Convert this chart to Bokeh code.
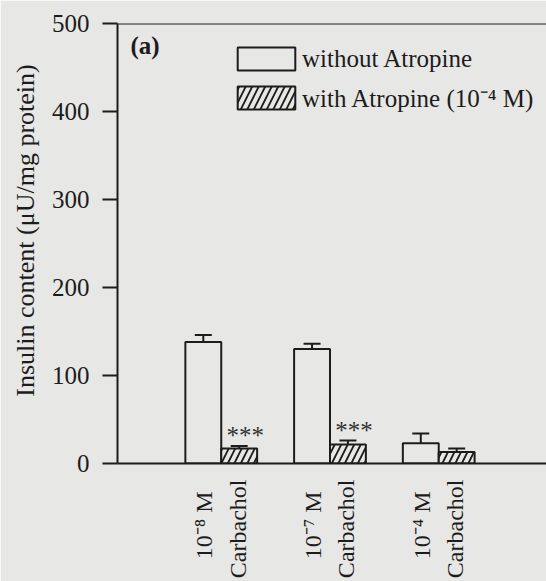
import numpy as np
from math import pi
from bokeh.plotting import figure
from bokeh.models import (ColumnDataSource, Whisker, TeeHead, Label, Legend,
                          LegendItem, Span, FixedTicker, Range1d)
from bokeh.core.properties import value
from bokeh.embed import file_html
from bokeh.resources import INLINE

# ---- data ----
groups = ["10\u207b\u2078 M", "10\u207b\u2077 M", "10\u207b\u2074 M"]
group_line2 = ["Carbachol", "Carbachol", "Carbachol"]
without_vals = [138, 130, 23]
without_err = [8, 6, 11]
with_vals = [17, 21.5, 13]
with_err = [3, 4.5, 4]
with_sig = ["***", "***", ""]
y_ticks = [0, 100, 200, 300, 400, 500]
legend_labels = ["without Atropine", "with Atropine (10\u207b\u2074 M)"]
panel_tag = "(a)"
y_label = "Insulin content (\u03bcU/mg protein)"

BG = "#e7e7e5"
INK = "#1c1c1c"
FONT = "Liberation Serif"
NB = "\u00a0"

pos = np.arange(1, len(groups) + 1)
bw = 0.33

p = figure(width=546, height=581, output_backend="svg", toolbar_location=None,
           x_range=Range1d(0.046, 3.991), y_range=Range1d(0, 500),
           min_border_left=117, min_border_right=0, min_border_top=23,
           min_border_bottom=118)
p.background_fill_color = BG
p.border_fill_color = BG
p.outline_line_color = None
p.xgrid.visible = False
p.ygrid.visible = False

# x axis: line plus two-line vertical category labels
line1_ticks = [round(float(v) - 0.155, 3) for v in pos]
line2_ticks = [round(float(v) + 0.15, 3) for v in pos]
overrides = {}
for i in range(len(groups)):
    overrides[line1_ticks[i]] = groups[i] + NB + NB
    overrides[line2_ticks[i]] = group_line2[i]
p.xaxis.ticker = FixedTicker(ticks=sorted(line1_ticks + line2_ticks))
p.xaxis.major_label_overrides = overrides
p.xaxis.major_label_orientation = pi / 2
p.xaxis.major_label_text_font = FONT
p.xaxis.major_label_text_font_size = "24px"
p.xaxis.major_label_text_color = INK
p.xaxis.major_label_standoff = 16
p.xaxis.major_tick_out = 0
p.xaxis.major_tick_in = 0
p.xaxis.axis_line_width = 2
p.xaxis.axis_line_color = INK
p.xaxis.major_tick_line_color = None
p.xaxis.minor_tick_line_color = None

# y axis
p.yaxis.ticker = FixedTicker(ticks=y_ticks)
p.yaxis.minor_tick_line_color = None
p.yaxis.major_tick_out = 15
p.yaxis.major_tick_in = 0
p.yaxis.major_tick_line_width = 2
p.yaxis.major_tick_line_color = INK
p.yaxis.axis_line_width = 2
p.yaxis.axis_line_color = INK
p.yaxis.major_label_text_font = FONT
p.yaxis.major_label_text_font_size = "25px"
p.yaxis.major_label_text_color = INK
p.yaxis.major_label_standoff = 13
p.yaxis.axis_label = NB * 4 + y_label
p.yaxis.axis_label_text_font = FONT
p.yaxis.axis_label_text_font_size = "26px"
p.yaxis.axis_label_text_font_style = "normal"
p.yaxis.axis_label_text_color = INK
p.yaxis.axis_label_standoff = 9

p.add_layout(Span(location=y_ticks[-1], dimension="width", line_color=INK, line_width=2))

src_wo = ColumnDataSource(dict(
    x=pos - bw / 2, top=without_vals,
    upper=np.array(without_vals) + np.array(without_err)))
src_w = ColumnDataSource(dict(
    x=pos + bw / 2, top=with_vals,
    upper=np.array(with_vals) + np.array(with_err), sig=with_sig))

r1 = p.vbar(x="x", top="top", width=bw, bottom=0, source=src_wo,
            fill_color=BG, line_color=INK, line_width=2)
r2 = p.vbar(x="x", top="top", width=bw, bottom=0, source=src_w,
            fill_color=BG, line_color=INK, line_width=2,
            hatch_pattern="/", hatch_color=INK, hatch_scale=13, hatch_weight=1.8)

for src in (src_wo, src_w):
    p.add_layout(Whisker(source=src, base="x", lower="top", upper="upper",
                         line_color=INK, line_width=2,
                         upper_head=TeeHead(size=17, line_color=INK, line_width=2),
                         lower_head=None))

p.text(x="x", y="upper", text="sig", source=src_w, text_font=value(FONT),
       text_font_size="25px", text_align="center", text_baseline="alphabetic",
       x_offset=6, y_offset=-10, text_color="#333333")

legend = Legend(items=[LegendItem(label=legend_labels[0], renderers=[r1]),
                       LegendItem(label=legend_labels[1], renderers=[r2])],
                location=(113, 349), glyph_width=72, glyph_height=29,
                label_height=29, spacing=7, padding=0, margin=0,
                border_line_color=None, background_fill_alpha=0,
                label_text_font=FONT, label_text_font_size="25px",
                label_standoff=0, label_text_color=INK)
p.add_layout(legend)

p.add_layout(Label(x=13, y=418, x_units="screen", y_units="screen", text=panel_tag,
                   text_font=FONT, text_font_style="bold", text_font_size="25px",
                   text_baseline="middle", text_color=INK))

html = file_html(p, INLINE)
html = html.replace("<body>", '<body style="background-color:%s;">' % BG, 1)
open("out.html", "w").write(html)
